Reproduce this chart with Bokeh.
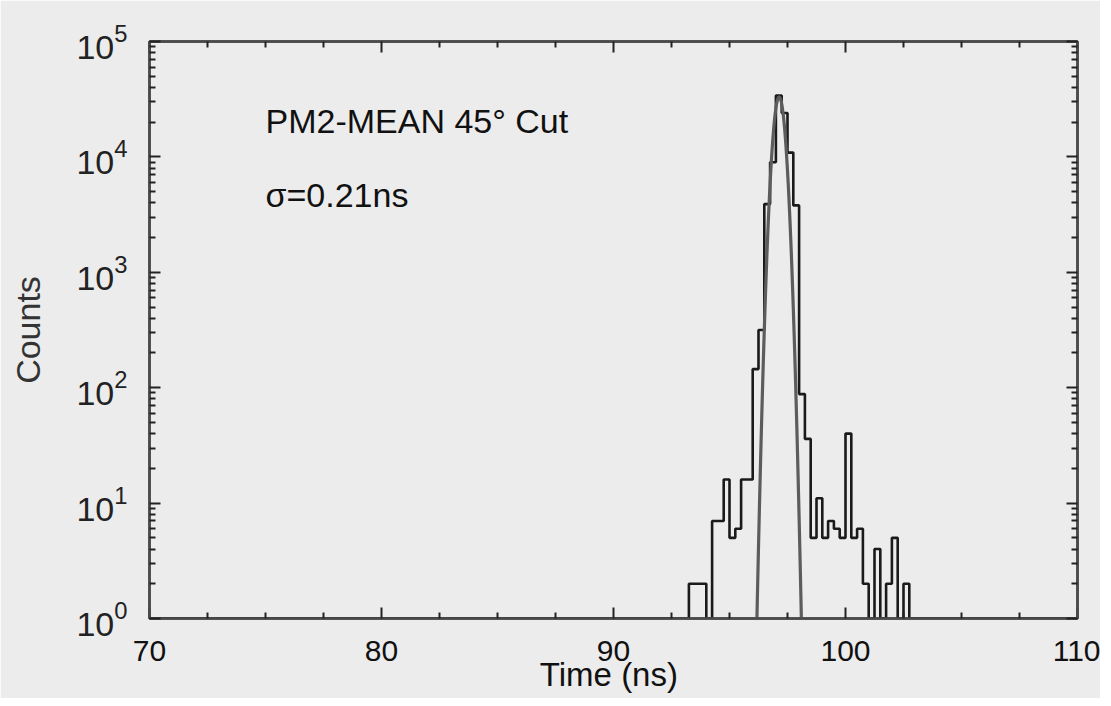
import numpy as np
from bokeh.plotting import figure
from bokeh.models import FixedTicker, LinearAxis, LogAxis, Label
from bokeh.embed import file_html
from bokeh.resources import INLINE

# ---- data ----
bin_left = [93.25, 93.5, 93.75, 94.0, 94.25, 94.5, 94.75, 95.0, 95.25, 95.5,
            95.75, 96.0, 96.25, 96.5, 96.75, 97.0, 97.25, 97.5, 97.75, 98.0,
            98.25, 98.5, 98.75, 99.0, 99.25, 99.5, 99.75, 100.0, 100.25, 100.5,
            100.75, 101.0, 101.25, 101.5, 101.75, 102.0, 102.25, 102.5]
counts = [2, 2, 2, 0, 7, 7, 16, 5, 6, 16,
          16, 145, 316, 3900, 9000, 34000, 24000, 10900, 3800, 88,
          36, 5, 11, 5, 7, 6, 5, 40, 5, 6,
          2, 0, 4, 0, 2, 5, 0, 2]
bin_width = 0.25

fit_mean = 97.14
fit_sigma = 0.21
fit_amp = 33000

x_major = [70, 80, 90, 100, 110]
x_minor = [72.5, 75, 77.5, 82.5, 85, 87.5, 92.5, 95, 97.5, 102.5, 105, 107.5]
y_major = [1, 10, 100, 1000, 10000, 100000]
y_minor = [k * 10 ** n for n in range(5) for k in range(2, 10)]

BG = "#ececec"
FONT = "Liberation Sans"

p = figure(width=1100, height=698, x_range=(70, 110), y_range=(1, 1e5),
           y_axis_type="log", output_backend="svg", toolbar_location=None,
           min_border_left=149, min_border_right=23, min_border_top=41,
           min_border_bottom=80, background_fill_color=BG, border_fill_color=BG)
p.xgrid.visible = False
p.ygrid.visible = False
p.outline_line_color = "#4a4a4a"
p.outline_line_width = 2.5

xt = FixedTicker(ticks=x_major, minor_ticks=x_minor)
yt = FixedTicker(ticks=y_major, minor_ticks=y_minor)


def style_axis(ax, show_labels):
    ax.axis_line_color = "#4a4a4a"
    ax.axis_line_width = 2.5
    ax.major_tick_in = 11
    ax.major_tick_out = 0
    ax.minor_tick_in = 6
    ax.minor_tick_out = 0
    ax.major_tick_line_color = "#222222"
    ax.minor_tick_line_color = "#222222"
    ax.major_tick_line_width = 2
    ax.minor_tick_line_width = 2
    if not show_labels:
        ax.major_label_text_font_size = "1px"
        ax.major_label_text_color = None
        ax.major_label_standoff = 0


xa = p.xaxis[0]
xa.ticker = xt
style_axis(xa, True)
xa.major_label_text_font = FONT
xa.major_label_text_font_size = "30px"
xa.major_label_text_color = "#111111"
xa.major_label_standoff = 22
xa.axis_label = "Time  (ns)"
xa.axis_label_text_font = FONT
xa.axis_label_text_font_style = "normal"
xa.axis_label_text_font_size = "33px"
xa.axis_label_text_color = "#111111"
xa.axis_label_standoff = -8

ya = p.yaxis[0]
ya.ticker = yt
style_axis(ya, True)
ya.major_label_text_font = FONT
ya.major_label_text_font_size = "34px"
ya.major_label_text_color = "#222222"
ya.major_label_standoff = 22
ya.axis_label = "Counts"
ya.axis_label_text_font = FONT
ya.axis_label_text_font_style = "normal"
ya.axis_label_text_font_size = "34px"
ya.axis_label_text_color = "#333333"
ya.axis_label_standoff = 26

top = LinearAxis(ticker=xt)
style_axis(top, False)
p.add_layout(top, "above")
right = LogAxis(ticker=yt)
style_axis(right, False)
p.add_layout(right, "right")

# histogram as a step line (empty bins drawn on the floor of the log axis)
floor = y_major[0]
shown = [max(c, floor) for c in counts]
xs = [x_major[0]] + bin_left + [bin_left[-1] + bin_width, x_major[-1]]
ys = [floor] + shown + [floor, floor]
p.step(xs, ys, mode="after", line_color="#1a1a1a", line_width=2.6)

# gaussian fit
gx = np.linspace(fit_mean - 5 * fit_sigma, fit_mean + 5 * fit_sigma, 400)
gy = fit_amp * np.exp(-0.5 * ((gx - fit_mean) / fit_sigma) ** 2)
keep = gy >= 0.5
p.line(gx[keep], gy[keep], line_color="#5c5c5c", line_width=3.2)

# annotations
p.add_layout(Label(x=75, y=20500, text="PM2-MEAN 45° Cut", text_font=FONT,
                   text_font_size="34px", text_color="#111111",
                   text_baseline="middle"))
p.add_layout(Label(x=75, y=4700, text="σ=0.21ns", text_font=FONT,
                   text_font_size="34px", text_color="#111111",
                   text_baseline="middle"))

open("out.html", "w").write(file_html(p, INLINE))
